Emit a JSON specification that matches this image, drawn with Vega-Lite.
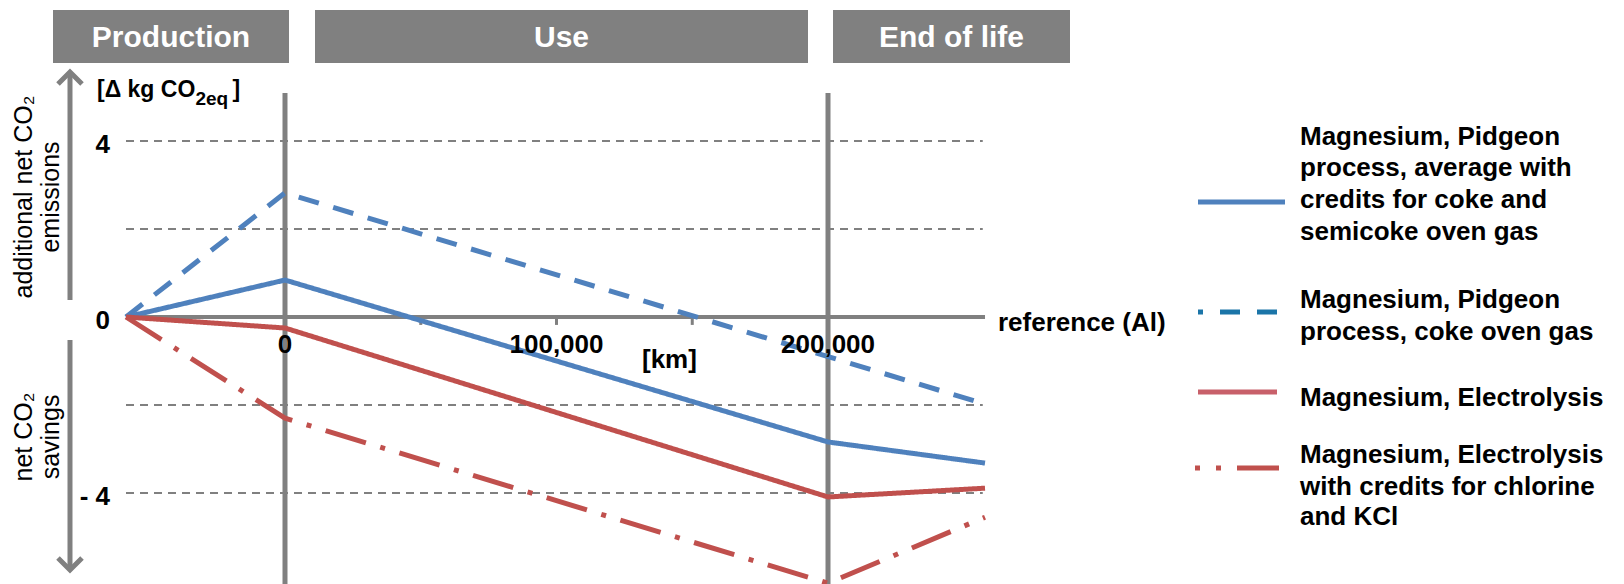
{
  "$schema": "https://vega.github.io/schema/vega-lite/v6.json",
  "width": 1624,
  "height": 584,
  "autosize": {"type": "none"},
  "padding": 0,
  "background": "white",
  "config": {
    "view": {"stroke": null},
    "axis": {"disable": true},
    "legend": {"disable": true},
    "text": {"font": "Liberation Sans"}
  },
  "datasets": {
    "series": [
      {"series": "Pidgeon average with credits", "km": -58560, "co2": 0},
      {"series": "Pidgeon average with credits", "km": 0, "co2": 0.84},
      {"series": "Pidgeon average with credits", "km": 200000, "co2": -2.84},
      {"series": "Pidgeon average with credits", "km": 257830, "co2": -3.32},
      {"series": "Pidgeon coke oven gas", "km": -58560, "co2": 0},
      {"series": "Pidgeon coke oven gas", "km": 0, "co2": 2.82},
      {"series": "Pidgeon coke oven gas", "km": 200000, "co2": -0.9},
      {"series": "Pidgeon coke oven gas", "km": 257830, "co2": -1.98},
      {"series": "Electrolysis", "km": -58560, "co2": 0},
      {"series": "Electrolysis", "km": 0, "co2": -0.25},
      {"series": "Electrolysis", "km": 200000, "co2": -4.09},
      {"series": "Electrolysis", "km": 257830, "co2": -3.89},
      {"series": "Electrolysis with credits", "km": -58560, "co2": 0},
      {"series": "Electrolysis with credits", "km": 0, "co2": -2.3},
      {"series": "Electrolysis with credits", "km": 200000, "co2": -6.05},
      {"series": "Electrolysis with credits", "km": 257830, "co2": -4.55}
    ],
    "grid": [{"v": 4}, {"v": 2}, {"v": -2}, {"v": -4}],
    "phaseLines": [{"km": 0}, {"km": 200000}],
    "xaxis": [{"from": -58560, "to": 257830, "v": 0}],
    "xticks": [{"km": 50000}, {"km": 100000}, {"km": 150000}],
    "xlabels": [
      {"km": 0, "label": "0"},
      {"km": 100000, "label": "100,000"},
      {"km": 200000, "label": "200,000"}
    ],
    "ylabels": [
      {"v": 4, "label": "4"},
      {"v": 0, "label": "0"},
      {"v": -4, "label": "- 4"}
    ],
    "phases": [
      {"phase": "Production", "from": -85450, "to": 1473, "mid": -41988},
      {"phase": "Use", "from": 11050, "to": 192631, "mid": 101840},
      {"phase": "End of life", "from": 201839, "to": 289131, "mid": 245485}
    ],
    "notes": [
      {"text": "[km]", "km": 131490, "co2": -0.977},
      {"text": "reference (Al)", "km": 262612, "co2": -0.136}
    ],
    "unit": [
      {"text": "[Δ kg CO", "km": -69244, "co2": 5.17, "part": "main"},
      {"text": "2eq", "km": -33000, "co2": 4.95, "part": "sub"},
      {"text": "]", "km": -19300, "co2": 5.17, "part": "main"}
    ],
    "sideLabels": [
      {"text": "additional net CO₂", "km": -96132, "co2": 2.727},
      {"text": "emissions", "km": -86187, "co2": 2.727},
      {"text": "net CO₂", "km": -96132, "co2": -2.727},
      {"text": "savings", "km": -86187, "co2": -2.727}
    ],
    "arrowShafts": [
      {"km": -79189, "from": 5.568, "to": 0.386},
      {"km": -79189, "from": -0.523, "to": -5.75}
    ],
    "arrowHeads": [
      {"km": -79189, "co2": 5.568, "dir": "up"},
      {"km": -79189, "co2": -5.75, "dir": "down"}
    ],
    "legendSamples": [
      {"series": "A", "km": 336276, "co2": 2.614},
      {"series": "A", "km": 368320, "co2": 2.614},
      {"series": "B", "km": 336276, "co2": 0.114},
      {"series": "B", "km": 365373, "co2": 0.114},
      {"series": "C", "km": 336276, "co2": -1.705},
      {"series": "C", "km": 365373, "co2": -1.705},
      {"series": "D", "km": 335171, "co2": -3.432},
      {"series": "D", "km": 366478, "co2": -3.432}
    ],
    "legendText": [
      {"line": "Magnesium, Pidgeon", "co2": 4.091},
      {"line": "process, average with", "co2": 3.386},
      {"line": "credits for coke and", "co2": 2.659},
      {"line": "semicoke oven gas", "co2": 1.932},
      {"line": "Magnesium, Pidgeon", "co2": 0.386},
      {"line": "process, coke oven gas", "co2": -0.341},
      {"line": "Magnesium, Electrolysis", "co2": -1.841},
      {"line": "Magnesium, Electrolysis", "co2": -3.136},
      {"line": "with credits for chlorine", "co2": -3.864},
      {"line": "and KCl", "co2": -4.545}
    ]
  },
  "resolve": {"scale": {"color": "independent", "strokeDash": "independent", "shape": "independent"}},
  "layer": [
    {
      "data": {"name": "grid"},
      "mark": {"type": "rule", "stroke": "#808080", "strokeWidth": 2, "strokeDash": [8, 6]},
      "encoding": {
        "x": {"datum": -58560, "type": "quantitative", "scale": {"domain": [-104971, 493180], "nice": false, "zero": false}},
        "x2": {"datum": 257000},
        "y": {"field": "v", "type": "quantitative", "scale": {"domain": [-6.068, 7.2045], "nice": false, "zero": false}}
      }
    },
    {
      "data": {"name": "phaseLines"},
      "mark": {"type": "rule", "stroke": "#808080", "strokeWidth": 5, "clip": false},
      "encoding": {
        "x": {"field": "km", "type": "quantitative", "scale": {"domain": [-104971, 493180], "nice": false, "zero": false}},
        "y": {"datum": 5.09, "type": "quantitative", "scale": {"domain": [-6.068, 7.2045], "nice": false, "zero": false}},
        "y2": {"datum": -6.2}
      }
    },
    {
      "data": {"name": "xaxis"},
      "mark": {"type": "rule", "stroke": "#808080", "strokeWidth": 4},
      "encoding": {
        "x": {"field": "from", "type": "quantitative", "scale": {"domain": [-104971, 493180], "nice": false, "zero": false}},
        "x2": {"field": "to"},
        "y": {"field": "v", "type": "quantitative", "scale": {"domain": [-6.068, 7.2045], "nice": false, "zero": false}}
      }
    },
    {
      "data": {"name": "xticks"},
      "mark": {"type": "rule", "stroke": "#808080", "strokeWidth": 3},
      "encoding": {
        "x": {"field": "km", "type": "quantitative", "scale": {"domain": [-104971, 493180], "nice": false, "zero": false}},
        "y": {"datum": 0, "type": "quantitative", "scale": {"domain": [-6.068, 7.2045], "nice": false, "zero": false}},
        "y2": {"datum": -0.18}
      }
    },
    {
      "data": {"name": "series"},
      "mark": {"type": "line", "strokeWidth": 5, "clip": false},
      "encoding": {
        "x": {"field": "km", "type": "quantitative", "scale": {"domain": [-104971, 493180], "nice": false, "zero": false}},
        "y": {"field": "co2", "type": "quantitative", "scale": {"domain": [-6.068, 7.2045], "nice": false, "zero": false}},
        "color": {"field": "series", "type": "nominal", "scale": {"domain": ["Pidgeon average with credits", "Pidgeon coke oven gas", "Electrolysis", "Electrolysis with credits"], "range": ["#4F81BD", "#4F81BD", "#C0504D", "#C0504D"]}},
        "strokeDash": {"field": "series", "type": "nominal", "scale": {"domain": ["Pidgeon average with credits", "Pidgeon coke oven gas", "Electrolysis", "Electrolysis with credits"], "range": [[1, 0], [21, 15], [1, 0], [42, 15, 5, 15]]}}
      }
    },
    {
      "data": {"name": "phases"},
      "mark": {"type": "rect", "fill": "#808080"},
      "encoding": {
        "x": {"field": "from", "type": "quantitative", "scale": {"domain": [-104971, 493180], "nice": false, "zero": false}},
        "x2": {"field": "to"},
        "y": {"datum": 6.977, "type": "quantitative", "scale": {"domain": [-6.068, 7.2045], "nice": false, "zero": false}},
        "y2": {"datum": 5.773}
      }
    },
    {
      "data": {"name": "phases"},
      "mark": {"type": "text", "color": "white", "fontWeight": "bold", "fontSize": 30, "align": "center", "baseline": "middle"},
      "encoding": {
        "x": {"field": "mid", "type": "quantitative", "scale": {"domain": [-104971, 493180], "nice": false, "zero": false}},
        "y": {"datum": 6.341, "type": "quantitative", "scale": {"domain": [-6.068, 7.2045], "nice": false, "zero": false}},
        "text": {"field": "phase"}
      }
    },
    {
      "data": {"name": "ylabels"},
      "mark": {"type": "text", "color": "black", "fontWeight": "bold", "fontSize": 26, "align": "right", "baseline": "middle", "dy": 4},
      "encoding": {
        "x": {"datum": -64456, "type": "quantitative", "scale": {"domain": [-104971, 493180], "nice": false, "zero": false}},
        "y": {"field": "v", "type": "quantitative", "scale": {"domain": [-6.068, 7.2045], "nice": false, "zero": false}},
        "text": {"field": "label"}
      }
    },
    {
      "data": {"name": "xlabels"},
      "mark": {"type": "text", "color": "black", "fontWeight": "bold", "fontSize": 26, "align": "center", "baseline": "middle"},
      "encoding": {
        "x": {"field": "km", "type": "quantitative", "scale": {"domain": [-104971, 493180], "nice": false, "zero": false}},
        "y": {"datum": -0.636, "type": "quantitative", "scale": {"domain": [-6.068, 7.2045], "nice": false, "zero": false}},
        "text": {"field": "label"}
      }
    },
    {
      "data": {"name": "notes"},
      "mark": {"type": "text", "color": "black", "fontWeight": "bold", "fontSize": 26, "align": "left", "baseline": "middle"},
      "encoding": {
        "x": {"field": "km", "type": "quantitative", "scale": {"domain": [-104971, 493180], "nice": false, "zero": false}},
        "y": {"field": "co2", "type": "quantitative", "scale": {"domain": [-6.068, 7.2045], "nice": false, "zero": false}},
        "text": {"field": "text"}
      }
    },
    {
      "data": {"name": "unit"},
      "transform": [{"filter": "datum.part === 'main'"}],
      "mark": {"type": "text", "color": "black", "fontWeight": "bold", "fontSize": 23, "align": "left", "baseline": "middle"},
      "encoding": {
        "x": {"field": "km", "type": "quantitative", "scale": {"domain": [-104971, 493180], "nice": false, "zero": false}},
        "y": {"field": "co2", "type": "quantitative", "scale": {"domain": [-6.068, 7.2045], "nice": false, "zero": false}},
        "text": {"field": "text"}
      }
    },
    {
      "data": {"name": "unit"},
      "transform": [{"filter": "datum.part === 'sub'"}],
      "mark": {"type": "text", "color": "black", "fontWeight": "bold", "fontSize": 19, "align": "left", "baseline": "middle"},
      "encoding": {
        "x": {"field": "km", "type": "quantitative", "scale": {"domain": [-104971, 493180], "nice": false, "zero": false}},
        "y": {"field": "co2", "type": "quantitative", "scale": {"domain": [-6.068, 7.2045], "nice": false, "zero": false}},
        "text": {"field": "text"}
      }
    },
    {
      "data": {"name": "sideLabels"},
      "mark": {"type": "text", "color": "black", "fontSize": 25, "angle": 270, "align": "center", "baseline": "middle"},
      "encoding": {
        "x": {"field": "km", "type": "quantitative", "scale": {"domain": [-104971, 493180], "nice": false, "zero": false}},
        "y": {"field": "co2", "type": "quantitative", "scale": {"domain": [-6.068, 7.2045], "nice": false, "zero": false}},
        "text": {"field": "text"}
      }
    },
    {
      "data": {"name": "arrowShafts"},
      "mark": {"type": "rule", "stroke": "#808080", "strokeWidth": 5},
      "encoding": {
        "x": {"field": "km", "type": "quantitative", "scale": {"domain": [-104971, 493180], "nice": false, "zero": false}},
        "y": {"field": "from", "type": "quantitative", "scale": {"domain": [-6.068, 7.2045], "nice": false, "zero": false}},
        "y2": {"field": "to"}
      }
    },
    {
      "data": {"name": "arrowHeads"},
      "mark": {"type": "point", "filled": false, "stroke": "#808080", "strokeWidth": 5, "size": 576, "opacity": 1},
      "encoding": {
        "x": {"field": "km", "type": "quantitative", "scale": {"domain": [-104971, 493180], "nice": false, "zero": false}},
        "y": {"field": "co2", "type": "quantitative", "scale": {"domain": [-6.068, 7.2045], "nice": false, "zero": false}},
        "shape": {"field": "dir", "type": "nominal", "scale": {"domain": ["up", "down"], "range": ["M-1,1L0,0L1,1", "M-1,-1L0,0L1,-1"]}}
      }
    },
    {
      "data": {"name": "legendSamples"},
      "transform": [{"filter": "datum.series === 'A'"}],
      "mark": {"type": "line", "stroke": "#4F81BD", "strokeWidth": 5},
      "encoding": {
        "x": {"field": "km", "type": "quantitative", "scale": {"domain": [-104971, 493180], "nice": false, "zero": false}},
        "y": {"field": "co2", "type": "quantitative", "scale": {"domain": [-6.068, 7.2045], "nice": false, "zero": false}}
      }
    },
    {
      "data": {"name": "legendSamples"},
      "transform": [{"filter": "datum.series === 'B'"}],
      "mark": {"type": "line", "stroke": "#1B75A8", "strokeWidth": 5, "strokeDash": [20, 17], "strokeDashOffset": 15},
      "encoding": {
        "x": {"field": "km", "type": "quantitative", "scale": {"domain": [-104971, 493180], "nice": false, "zero": false}},
        "y": {"field": "co2", "type": "quantitative", "scale": {"domain": [-6.068, 7.2045], "nice": false, "zero": false}}
      }
    },
    {
      "data": {"name": "legendSamples"},
      "transform": [{"filter": "datum.series === 'C'"}],
      "mark": {"type": "line", "stroke": "#C8606A", "strokeWidth": 5},
      "encoding": {
        "x": {"field": "km", "type": "quantitative", "scale": {"domain": [-104971, 493180], "nice": false, "zero": false}},
        "y": {"field": "co2", "type": "quantitative", "scale": {"domain": [-6.068, 7.2045], "nice": false, "zero": false}}
      }
    },
    {
      "data": {"name": "legendSamples"},
      "transform": [{"filter": "datum.series === 'D'"}],
      "mark": {"type": "line", "stroke": "#C0504D", "strokeWidth": 5, "strokeDash": [42, 16, 5, 16], "strokeDashOffset": 37},
      "encoding": {
        "x": {"field": "km", "type": "quantitative", "scale": {"domain": [-104971, 493180], "nice": false, "zero": false}},
        "y": {"field": "co2", "type": "quantitative", "scale": {"domain": [-6.068, 7.2045], "nice": false, "zero": false}}
      }
    },
    {
      "data": {"name": "legendText"},
      "mark": {"type": "text", "color": "black", "fontWeight": "bold", "fontSize": 26, "align": "left", "baseline": "middle"},
      "encoding": {
        "x": {"datum": 373845, "type": "quantitative", "scale": {"domain": [-104971, 493180], "nice": false, "zero": false}},
        "y": {"field": "co2", "type": "quantitative", "scale": {"domain": [-6.068, 7.2045], "nice": false, "zero": false}},
        "text": {"field": "line"}
      }
    }
  ]
}
